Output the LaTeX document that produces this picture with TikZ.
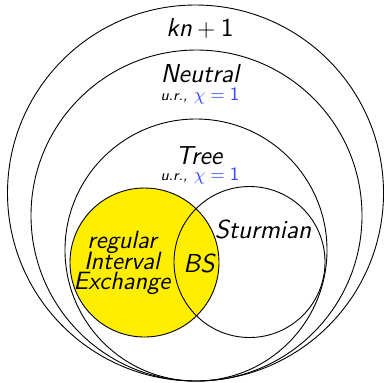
\documentclass[tikz,border=0pt]{standalone}
\usepackage{xcolor}
\usepackage{tikz}
\usetikzlibrary{positioning}
\definecolor{ievenn}{RGB}{255,238,0}
\definecolor{chiblue}{RGB}{50,70,255}
\tikzset{
  font=\sffamily,
  venn/.style={circle, draw=black, line width=0.45pt, inner sep=0pt,
    minimum size=#1},
  vennfill/.style={venn=#1, fill=ievenn},
  classlbl/.style={font=\sffamily\fontsize{13}{15}\selectfont\itshape,
    inner sep=0pt, align=center},
  urlbl/.style={font=\sffamily\fontsize{9.5}{11}\selectfont,
    inner sep=0pt},
}
\newcommand{\urchi}{\textit{\fontsize{7.5}{8}\selectfont u.r.,} \textcolor{chiblue}{$\chi={}$1}}
\newcommand{\tightlines}{\lineskiplimit=-20pt\relax}

\begin{document}
\begin{tikzpicture}[x=0.5pt, y=-0.5pt]
\useasboundingbox (0,0) rectangle (384,382);

% ---------- nested classes ----------
\node[venn=188pt]   (kn)  at (195.5,193)   {};
\node[venn=165.5pt] (neu) at (196.5,215.5) {};
\node[venn=131pt]   (tr)  at (196,250)     {};

% ---------- interval exchange / Sturmian ----------
\node[vennfill=74.5pt] (ie) at (144.5,262.5) {};
\node[venn=75.5pt]     (st) at (249.5,262)   {};

% ---------- labels ----------
\node[classlbl] (knl)  at (200,28)  {kn\upshape${}+{}$1};
\node[classlbl] (neul) at (200,74)  {Neutral};
\node[urlbl]    (neuur) at (200,96) {\urchi};
\node[classlbl] (trl)  at (199,156) {Tree};
\node[urlbl]    (trur) at (200,176) {\urchi};
\node[classlbl, font=\sffamily\fontsize{12.5}{10.2}\selectfont\itshape\tightlines]
  (iel) at (122,263) {regular\\Interval\\Exchange};
\node[classlbl] (bsl)  at (199,263) {BS};
\node[classlbl] (stl)  at (263,229) {Sturmian};

\end{tikzpicture}
\end{document}
